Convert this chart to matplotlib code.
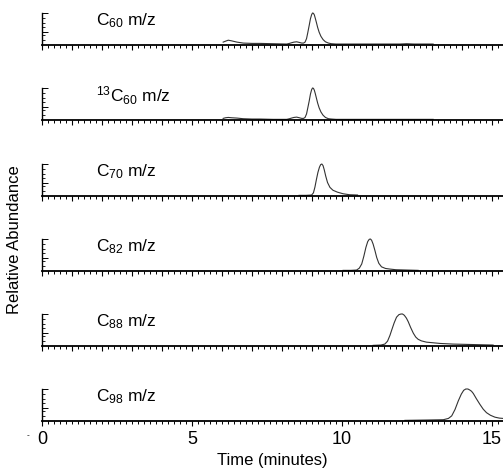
import matplotlib.pyplot as plt
from matplotlib.ticker import MultipleLocator, FixedLocator

plt.rcParams['font.family'] = ['Liberation Sans', 'DejaVu Sans']
plt.rcParams['mathtext.fontset'] = 'custom'
plt.rcParams['mathtext.rm'] = 'Liberation Sans'
plt.rcParams['mathtext.it'] = 'Liberation Sans'

# labels for each panel (top to bottom)
labels = [r'C$_{\mathrm{60}}$ m/z', r'$^{\mathrm{13}}$C$_{\mathrm{60}}$ m/z',
          r'C$_{\mathrm{70}}$ m/z', r'C$_{\mathrm{82}}$ m/z',
          r'C$_{\mathrm{88}}$ m/z', r'C$_{\mathrm{98}}$ m/z']

# traces: time (min), relative intensity
c60_t = [6.04, 6.12, 6.21, 6.32, 6.5, 6.71, 7.0, 7.27, 7.7, 8.16, 8.25, 8.32, 8.4,
         8.49, 8.58, 8.66, 8.72, 8.77, 8.82, 8.86, 8.91, 8.95, 8.99, 9.02, 9.05,
         9.08, 9.11, 9.15, 9.19, 9.24, 9.3, 9.37, 9.45, 9.55, 9.65, 9.8, 10.0,
         11.0, 11.93, 12.16, 12.4, 13.04]
c60_y = [0.09, 0.12, 0.15, 0.13, 0.09, 0.06, 0.05, 0.05, 0.04, 0.03, 0.05, 0.07,
         0.09, 0.1, 0.08, 0.06, 0.06, 0.09, 0.2, 0.38, 0.62, 0.82, 0.95, 1.0, 0.99,
         0.94, 0.84, 0.7, 0.55, 0.4, 0.27, 0.17, 0.1, 0.06, 0.04, 0.03, 0.03,
         0.03, 0.03, 0.04, 0.03, 0.03]

c13_t = [6.04, 6.12, 6.21, 6.32, 6.5, 6.71, 7.0, 7.27, 7.7, 8.16, 8.25, 8.32, 8.4,
         8.49, 8.58, 8.66, 8.72, 8.77, 8.82, 8.86, 8.91, 8.95, 8.99, 9.02, 9.05,
         9.08, 9.11, 9.15, 9.19, 9.24, 9.3, 9.37, 9.45, 9.55, 9.65, 9.8, 10.0,
         11.0, 12.0, 13.04]
c13_y = [0.05, 0.07, 0.08, 0.07, 0.06, 0.04, 0.03, 0.03, 0.02, 0.02, 0.04, 0.06,
         0.08, 0.09, 0.07, 0.05, 0.05, 0.08, 0.19, 0.37, 0.6, 0.81, 0.95, 1.0, 0.99,
         0.93, 0.83, 0.68, 0.53, 0.38, 0.25, 0.15, 0.08, 0.04, 0.03, 0.02, 0.02,
         0.02, 0.02, 0.02]

c70_t = [8.57, 8.8, 8.99, 9.05, 9.1, 9.15, 9.2, 9.25, 9.29, 9.33, 9.37, 9.41,
         9.46, 9.52, 9.6, 9.7, 9.85, 10.04, 10.25, 10.52]
c70_y = [0.02, 0.02, 0.03, 0.1, 0.28, 0.52, 0.74, 0.9, 0.98, 1.0, 0.95, 0.82,
         0.62, 0.42, 0.27, 0.18, 0.12, 0.07, 0.04, 0.03]

c82_t = [10.04, 10.3, 10.49, 10.58, 10.66, 10.73, 10.8, 10.86, 10.91, 10.95,
         10.99, 11.04, 11.1, 11.16, 11.23, 11.32, 11.45, 11.6, 11.8, 12.16, 12.54]
c82_y = [0.02, 0.02, 0.03, 0.09, 0.22, 0.46, 0.74, 0.92, 0.99, 1.0, 0.96, 0.84,
         0.64, 0.42, 0.24, 0.13, 0.08, 0.06, 0.04, 0.03, 0.02]

c88_t = [11.04, 11.3, 11.43, 11.52, 11.6, 11.66, 11.74, 11.82, 11.9, 11.97, 12.02,
         12.08, 12.15, 12.21, 12.29, 12.38, 12.46, 12.54, 12.65, 12.82, 13.05,
         13.27, 13.7, 14.16, 14.6, 15.04]
c88_y = [0.02, 0.03, 0.06, 0.15, 0.33, 0.5, 0.72, 0.9, 0.98, 1.0, 1.0, 0.96,
         0.87, 0.76, 0.58, 0.4, 0.28, 0.21, 0.16, 0.12, 0.1, 0.08, 0.06, 0.05,
         0.04, 0.03]

c98_t = [12.1, 12.8, 13.38, 13.55, 13.66, 13.77, 13.88, 13.98, 14.06, 14.13, 14.2,
         14.26, 14.32, 14.38, 14.48, 14.6, 14.71, 14.82, 14.95, 15.1, 15.25, 15.38]
c98_y = [0.02, 0.03, 0.04, 0.08, 0.16, 0.36, 0.63, 0.84, 0.96, 1.0, 1.0, 0.97,
         0.93, 0.86, 0.7, 0.52, 0.37, 0.26, 0.18, 0.12, 0.09, 0.08]

traces = [(c60_t, c60_y), (c13_t, c13_y), (c70_t, c70_y),
          (c82_t, c82_y), (c88_t, c88_y), (c98_t, c98_y)]

x_ticks = [0, 5, 10, 15]

W, H = 503, 470
fig = plt.figure(figsize=(W / 100, H / 100), dpi=100)

baselines = [45, 120, 196, 271, 346, 421]  # pixel rows of each panel's x axis
left_px, top_h = 42, 32

for i, ((t, y), lab) in enumerate(zip(traces, labels)):
    b = baselines[i]
    ax = fig.add_axes([left_px / W, (H - b) / H, (W - left_px) / W, top_h / H])
    ax.plot(t, y, color='#333333', lw=0.8, clip_on=False)
    ax.set_xlim(0, 15.37)
    ax.set_ylim(0, 1.0)
    ax.spines['top'].set_visible(False)
    ax.spines['right'].set_visible(False)
    ax.spines['bottom'].set_linewidth(1.3)
    ax.spines['left'].set_linewidth(1.0)
    ax.xaxis.set_major_locator(MultipleLocator(1))
    ax.xaxis.set_minor_locator(MultipleLocator(0.2))
    ax.tick_params(axis='x', which='major', direction='out', length=3.5, width=0.8)
    ax.tick_params(axis='x', which='minor', direction='out', length=2, width=0.7)
    ax.yaxis.set_major_locator(FixedLocator([0.4, 1.0]))
    ax.yaxis.set_minor_locator(FixedLocator([0.15, 0.3, 0.55, 0.7, 0.85]))
    ax.tick_params(axis='y', which='major', direction='in', length=4, width=0.7)
    ax.tick_params(axis='y', which='minor', direction='in', length=2, width=0.6)
    ax.set_yticklabels([])
    ax.text(0.117, 0.75, lab, transform=ax.transAxes, fontsize=12.5, va='center')
    if i == len(traces) - 1:
        ax.set_xticks(x_ticks)
        ax.set_xticklabels([str(v) for v in x_ticks], fontsize=13)
        ax.tick_params(axis='x', which='major', pad=4)
        ax.set_xlabel('Time (minutes)', fontsize=12, labelpad=3)
    else:
        ax.set_xticklabels([])

fig.text(15 / W, 1 - 240 / H, 'Relative Abundance', rotation=90,
         fontsize=12, ha='center', va='center')
# stray small dash left of the "0" label in the original
fig.text(28 / W, 1 - 436 / H, '-', fontsize=6, ha='center', va='center')

fig.savefig('out.png', dpi=100)
